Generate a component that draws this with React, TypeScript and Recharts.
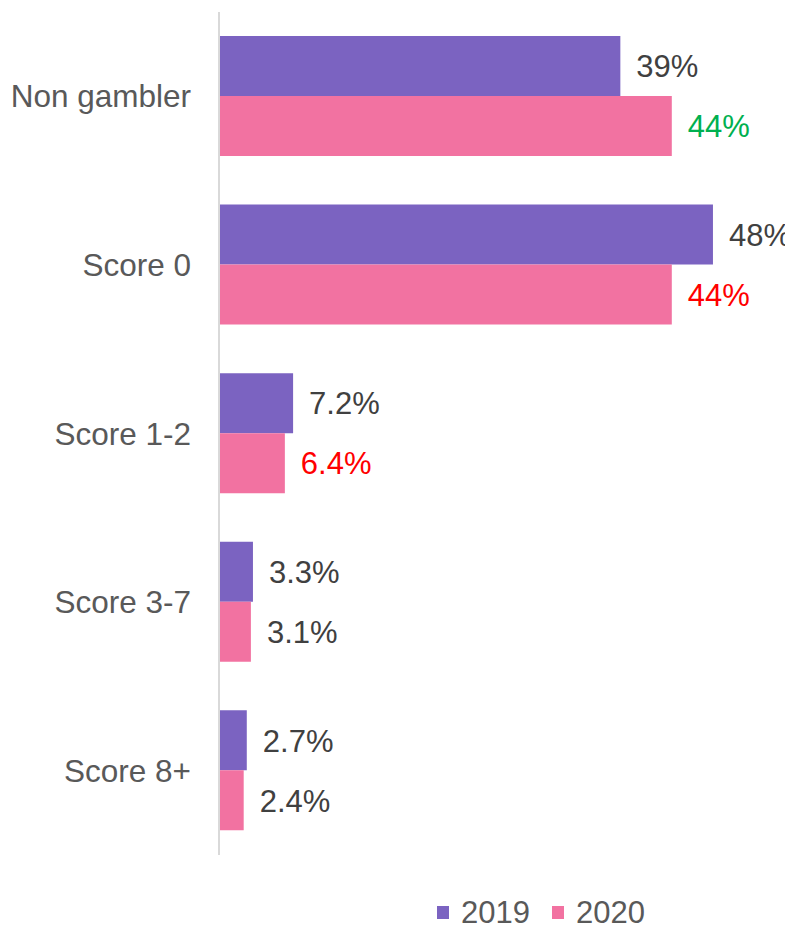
import { BarChart, Bar, XAxis, YAxis, Legend, LabelList } from "recharts";

const categories = ["Non gambler", "Score 0", "Score 1-2", "Score 3-7", "Score 8+"];
const values2019 = [39, 48, 7.2, 3.3, 2.7];
const values2020 = [44, 44, 6.4, 3.1, 2.4];
const labels2019 = ["39%", "48%", "7.2%", "3.3%", "2.7%"];
const labels2020 = ["44%", "44%", "6.4%", "3.1%", "2.4%"];
// colour of the 2020 label: up / down / unchanged vs 2019
const change2020 = ["up", "down", "down", "same", "same"];

const PURPLE = "#7B63C1";
const PINK = "#F272A1";
const FONT = "'Liberation Sans', Arial, sans-serif";

const changeColor: Record<string, string> = {
  up: "#00B050",
  down: "#FF0000",
  same: "#404040",
};

const data = categories.map((name, i) => ({
  name,
  y2019: values2019[i],
  y2020: values2020[i],
  l2019: labels2019[i],
  l2020: labels2020[i],
  c2020: change2020[i],
}));

const makeLabel = (which: "2019" | "2020") => (props: any) => {
  const { x, y, width, height, index } = props;
  const row = data[index];
  const text = which === "2019" ? row.l2019 : row.l2020;
  const fill = which === "2019" ? "#404040" : changeColor[row.c2020];
  return (
    <text
      x={x + width + 16}
      y={y + height / 2}
      dy="0.36em"
      fill={fill}
      fontSize={31}
      fontFamily={FONT}
    >
      {text}
    </text>
  );
};

function LegendContent() {
  const items = [
    { label: "2019", color: PURPLE },
    { label: "2020", color: PINK },
  ];
  return (
    <div
      style={{
        display: "flex",
        paddingLeft: 429,
        paddingTop: 43,
        fontFamily: FONT,
        fontSize: 31,
        color: "#595959",
        lineHeight: "29px",
      }}
    >
      {items.map((it) => (
        <div key={it.label} style={{ display: "flex", alignItems: "center", marginRight: 22 }}>
          <span
            style={{
              display: "inline-block",
              width: 12,
              height: 13,
              background: it.color,
              marginRight: 12,
            }}
          />
          {it.label}
        </div>
      ))}
    </div>
  );
}

export default function App() {
  return (
    <div style={{ width: 785, height: 919 }}>
      <style>{"html,body{overflow:hidden}"}</style>
      <BarChart
        width={785}
        height={919}
        data={data}
        layout="vertical"
        margin={{ top: 4, right: 8, bottom: 0, left: 0 }}
        barCategoryGap="14.2%"
        barGap={0}
      >
        <XAxis type="number" domain={[0, 55]} hide />
        <YAxis
          type="category"
          dataKey="name"
          width={211}
          tickLine={false}
          tickMargin={22}
          axisLine={{ stroke: "#D9D9D9", strokeWidth: 2 }}
          tick={{ fill: "#595959", fontSize: 31.5, fontFamily: FONT }}
        />
        <Legend verticalAlign="bottom" height={72} content={<LegendContent />} />
        <Bar dataKey="y2019" name="2019" fill={PURPLE} isAnimationActive={false}>
          <LabelList dataKey="y2019" content={makeLabel("2019")} />
        </Bar>
        <Bar dataKey="y2020" name="2020" fill={PINK} isAnimationActive={false}>
          <LabelList dataKey="y2020" content={makeLabel("2020")} />
        </Bar>
      </BarChart>
    </div>
  );
}
